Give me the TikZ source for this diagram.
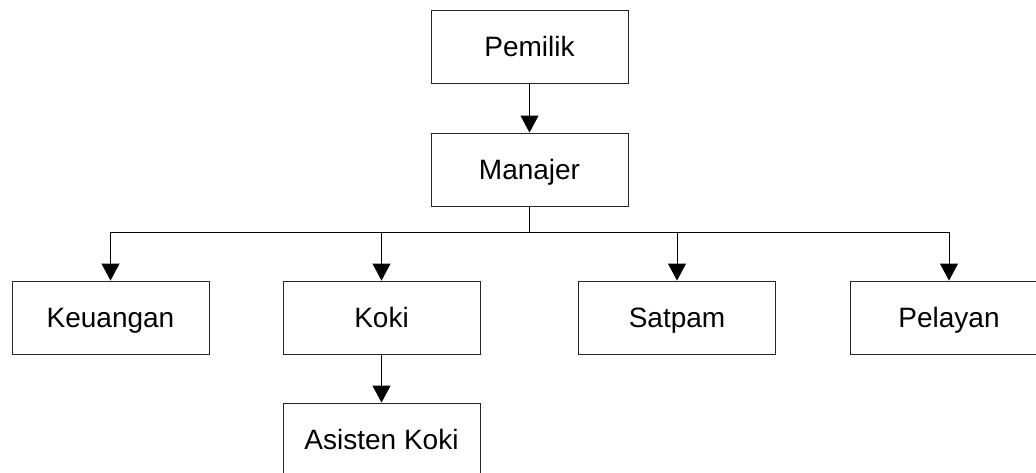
\documentclass[tikz,border=0pt]{standalone}
\usepackage{fontspec}
\setmainfont{Liberation Sans}
\usetikzlibrary{arrows.meta}

\begin{document}
\begin{tikzpicture}[x=1pt,y=-1pt]
	\tikzstyle{jabatan}=[draw=black!85, line width=0.9pt, minimum width=197pt, minimum height=73pt, inner sep=0pt, text height=19.5pt, text depth=0pt, font=\fontsize{28}{32}\selectfont]
	\tikzstyle{garis}=[line width=0.9pt]
	\tikzstyle{panah}=[garis, -{Triangle[width=18pt,length=17pt]}]
	\useasboundingbox (0,0) rectangle (1036,472);
	\clip (0,0) rectangle (1036,472);
	\node[jabatan] (pemilik) at (529.5,47) {Pemilik};
	\node[jabatan] (manajer) at (529.5,169.5) {Manajer};
	\node[jabatan] (keuangan) at (110.5,317.5) {Keuangan};
	\node[jabatan] (koki) at (381.5,317.5) {Koki};
	\node[jabatan] (satpam) at (677,317.5) {Satpam};
	\node[jabatan] (pelayan) at (949,317.5) {Pelayan};
	\node[jabatan] (asisten) at (381.5,439.5) {Asisten Koki};
	\coordinate (cabang) at (529.5,232);

	\draw[panah] (pemilik) -- (manajer);
	\draw[garis] (manajer.south) -- (cabang);
	\draw[garis] (keuangan.north |- cabang) -- (pelayan.north |- cabang);
	\foreach \anak in {keuangan,koki,satpam,pelayan}
		\draw[panah] (\anak.north |- cabang) -- (\anak.north);
	\draw[panah] (koki) -- (asisten);
\end{tikzpicture}
\end{document}
